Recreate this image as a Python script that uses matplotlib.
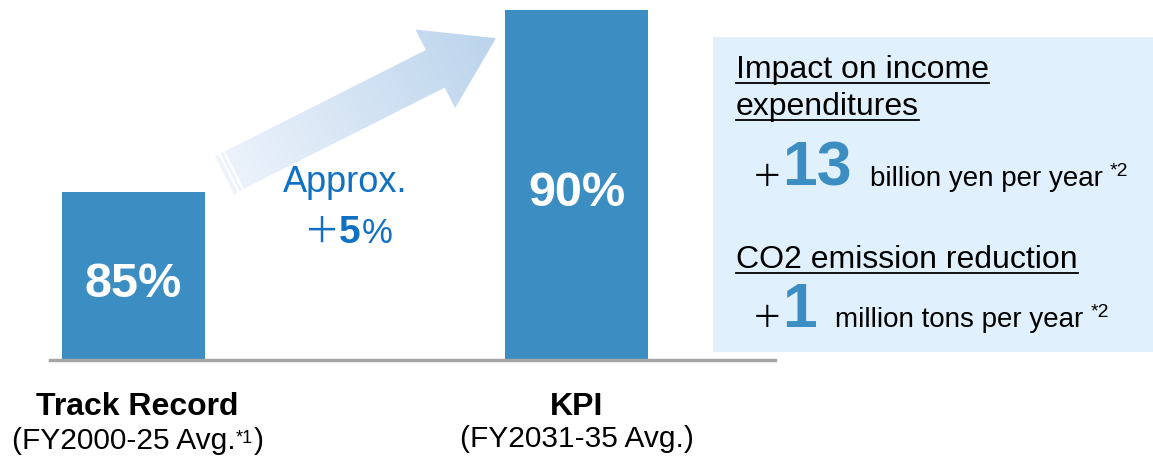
import numpy as np
import matplotlib
matplotlib.use('Agg')
import matplotlib.pyplot as plt
from matplotlib.patches import Polygon, Rectangle
from matplotlib.colors import LinearSegmentedColormap
from matplotlib import transforms

plt.rcParams['font.family'] = ['Liberation Sans', 'DejaVu Sans']

# data
categories = ['Track Record', 'KPI']
periods = ['(FY2000-25 Avg.', '(FY2031-35 Avg.)']
period_notes = ['*1', '']
values = [85, 90]
increase = 5
income_impact = 13
co2_reduction = 1

bar_color = '#3B8DC2'
blue_text = '#0F70C4'

W, H = 1153, 462
fig = plt.figure(figsize=(W / 100, H / 100), dpi=100)

# bar axes (truncated value axis)
ax = fig.add_axes([0, (H - 360) / H, 780 / W, 350 / H])
ax.set_xlim(-0.3014, 1.459)
y0 = 80.4
ax.set_ylim(y0, 90)
x = np.arange(len(values))
ax.bar(x, values, width=0.323, color=bar_color, zorder=2)
ax.axhline(y0, xmin=50 / 780, xmax=775 / 780, color='#A6A6A6', lw=2.5,
           clip_on=False, zorder=3)
for xi, v in zip(x, values):
    ax.annotate(f'{v}%', xy=(xi, (v + y0) / 2), xytext=(0, -21),
                textcoords='offset pixels', ha='center', va='baseline',
                color='white', fontsize=35, fontweight='bold', zorder=4)
ax.axis('off')

# overlay in image pixel coordinates
ov = fig.add_axes([0, 0, 1, 1])
ov.set_xlim(0, W)
ov.set_ylim(H, 0)
ov.axis('off')

# gradient arrow
c0 = np.array([224.5, 175.0])
u = np.array([0.893, -0.450])
u = u / np.linalg.norm(u)
n = np.array([-u[1], u[0]])
shaft_len, half_w, head_hw, head_len = 236, 21, 44, 68
base = c0 + u * shaft_len
tip = base + u * head_len
pts = [c0 - n * half_w, base - n * half_w, base - n * head_hw, tip,
       base + n * head_hw, base + n * half_w, c0 + n * half_w]
arrow = Polygon(pts, closed=True, facecolor='none', edgecolor='none')
ov.add_patch(arrow)
gx = np.linspace(190, 510, 320)
gy = np.linspace(20, 210, 190)
GX, GY = np.meshgrid(gx, gy)
t = np.clip(((GX - c0[0]) * u[0] + (GY - c0[1]) * u[1]) / (shaft_len + head_len), 0, 1)
cmap = LinearSegmentedColormap.from_list('arr', ['#EDF3FB', '#BBD4EC'])
im = ov.imshow(t, extent=(190, 510, 210, 20), origin='upper', cmap=cmap,
               aspect='auto', interpolation='bilinear', zorder=1)
im.set_clip_path(arrow)
for off in (5, 10):
    p = c0 + u * off
    a, b = p - n * (half_w + 1), p + n * (half_w + 1)
    ov.plot([a[0], b[0]], [a[1], b[1]], color='white', lw=1.6, zorder=2)
ov.set_xlim(0, W)
ov.set_ylim(H, 0)

# approx text
ov.text(345, 192, 'Approx.', ha='center', va='baseline', color=blue_text, fontsize=26)
tp = ov.text(303, 243, '＋', ha='left', va='baseline', color=blue_text, fontsize=26,
             family=['Noto Sans CJK JP', 'DejaVu Sans'])
t5 = ov.annotate(f'{increase}', xy=(1, 243), xycoords=(tp, ov.transData), xytext=(0, 0),
                 textcoords='offset pixels', va='baseline', ha='left',
                 color=blue_text, fontsize=28, fontweight='bold')
ov.annotate('%', xy=(1, 243), xycoords=(t5, ov.transData), xytext=(1, 0),
            textcoords='offset pixels', va='baseline', ha='left',
            color=blue_text, fontsize=25)

# category labels
bx = transforms.blended_transform_factory(ax.transData, ov.transData)
for xi, cat in zip(x, categories):
    ov.annotate(cat, xy=(xi, 415), xycoords=bx, xytext=(4 if xi == 0 else 0, 0),
                textcoords='offset pixels', ha='center', va='baseline',
                fontsize=23, fontweight='bold', color='black')
sub1 = ov.text(12, 449, periods[0], ha='left', va='baseline', fontsize=21.5)
s1n = ov.annotate(period_notes[0], xy=(1, 1), xycoords=sub1, xytext=(0, -3),
                  textcoords='offset pixels', ha='left', va='top', fontsize=13)
ov.annotate(')', xy=(1, 0), xycoords=(s1n, sub1), xytext=(1, 0),
            textcoords='offset pixels', ha='left', va='bottom', fontsize=21.5)
ov.text(x[1], 447, periods[1], transform=bx, ha='center', va='baseline', fontsize=21.5)

# right info box
ov.add_patch(Rectangle((713, 37), W - 713, 315, facecolor='#E0F1FD', edgecolor='none', zorder=0))
h1 = ov.text(736, 78, 'Impact on income', ha='left', va='baseline', fontsize=23)
h2 = ov.text(736, 115, 'expenditures', ha='left', va='baseline', fontsize=23)
h3 = ov.text(736, 268, 'CO2 emission reduction', ha='left', va='baseline', fontsize=23)


def value_line(y, num, unit):
    pl = ov.text(752, y, '＋', ha='left', va='baseline', fontsize=22,
                 family=['Noto Sans CJK JP', 'DejaVu Sans'])
    nm = ov.annotate(f'{num}', xy=(1, y), xycoords=(pl, ov.transData), xytext=(0, 0),
                     textcoords='offset pixels', va='baseline', ha='left',
                     color=bar_color, fontsize=45, fontweight='bold')
    un = ov.annotate(unit, xy=(1, y), xycoords=(nm, ov.transData), xytext=(18, 0),
                     textcoords='offset pixels', va='baseline', ha='left', fontsize=20)
    ov.annotate('*2', xy=(1, y - 10), xycoords=(un, ov.transData), xytext=(7, 0),
                textcoords='offset pixels', va='baseline', ha='left', fontsize=14)


value_line(186, income_impact, 'billion yen per year')
value_line(327, co2_reduction, 'million tons per year')

# underlines for headings
fig.canvas.draw()
for h, yb in ((h1, 78), (h2, 115), (h3, 268)):
    bb = h.get_window_extent()
    ov.plot([bb.x0, bb.x1], [yb + 4.5, yb + 4.5], color='black', lw=1.3)
ov.set_xlim(0, W)
ov.set_ylim(H, 0)

fig.savefig('out.png', dpi=100)
